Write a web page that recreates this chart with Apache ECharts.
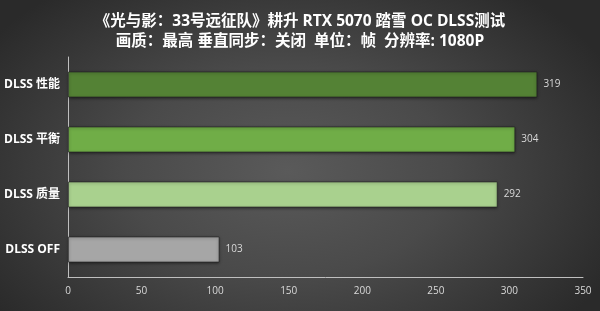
<!DOCTYPE html>
<html><head><meta charset="utf-8">
<script src="https://cdn.jsdelivr.net/npm/echarts@6/dist/echarts.min.js"></script>
<style>
html,body{margin:0;padding:0;}
#c{width:600px;height:311px;background:radial-gradient(ellipse 60% 75% at 48% 55%, #5a5a5a 0%, #4a4a4a 45%, #2a2a2a 100%);}
</style></head>
<body><div id="c"></div>
<script>
const categories = ['DLSS 性能', 'DLSS 平衡', 'DLSS 质量', 'DLSS OFF'];
const values = [319, 304, 292, 103];
const barColors = ['#548235', '#70ad47', '#a9d18e', '#a6a6a6'];
const xTicks = [0, 50, 100, 150, 200, 250, 300, 350];
const titleLines = ['《光与影：33号远征队》耕升 RTX 5070 踏雪 OC DLSS测试', '画质：最高 垂直同步：关闭  单位：帧  分辨率: 1080P'];

const font = '"Open Sans","Noto Sans CJK SC",sans-serif';
const chart = echarts.init(document.getElementById('c'));
chart.setOption({
  backgroundColor: 'transparent',
  title: {
    text: titleLines.join('\n'),
    left: 'center', top: 7,
    textStyle: {color: '#ffffff', fontSize: 15.5, fontWeight: 'bold', lineHeight: 20, fontFamily: font}
  },
  grid: {left: 68, right: 17, top: 57, bottom: 34},
  xAxis: {
    type: 'value', min: xTicks[0], max: xTicks[xTicks.length-1], interval: 50,
    axisLine: {show: true, lineStyle: {color: '#bfbfbf', width: 1}},
    axisTick: {show: false},
    splitLine: {show: false},
    axisLabel: {color: '#d9d9d9', fontSize: 10, fontFamily: font, margin: 9}
  },
  yAxis: {
    type: 'category', data: categories, inverse: true,
    axisLine: {show: true, lineStyle: {color: '#bfbfbf', width: 1}},
    axisTick: {show: false},
    axisLabel: {color: '#ffffff', fontSize: 12, fontWeight: 'bold', fontFamily: font, margin: 8}
  },
  series: [{
    type: 'bar',
    data: values.map((v, i) => ({value: v, itemStyle: {color: barColors[i]}})),
    barWidth: 26,
    itemStyle: {borderColor: 'rgba(30,30,30,0.6)', borderWidth: 1, shadowColor: 'rgba(0,0,0,0.5)', shadowBlur: 3, shadowOffsetY: 1},
    label: {show: true, position: 'right', color: '#d9d9d9', fontSize: 10, fontFamily: font, distance: 6}
  }]
});
</script></body></html>
